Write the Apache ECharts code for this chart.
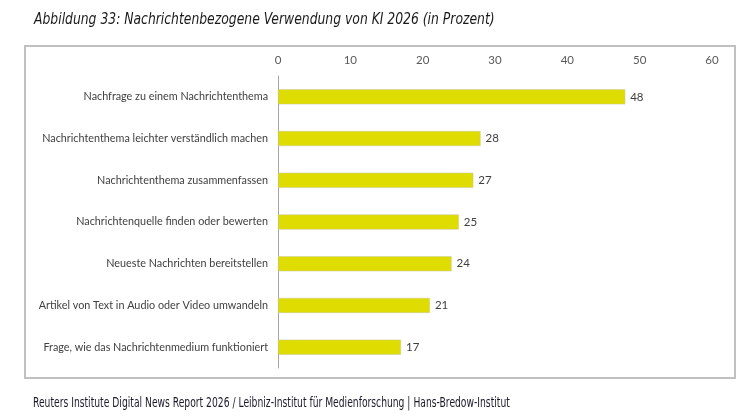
<!DOCTYPE html>
<html>
<head>
<meta charset="utf-8">
<script src="https://cdn.jsdelivr.net/npm/echarts@6/dist/echarts.min.js"></script>
<style>
  html, body { margin: 0; padding: 0; background: #fff; }
  #chart { width: 754px; height: 418px; }
</style>
</head>
<body>
<div id="chart"></div>
<script>
// Kategorien von oben nach unten
const categories = [
  'Nachfrage zu einem Nachrichtenthema',
  'Nachrichtenthema leichter verständlich machen',
  'Nachrichtenthema zusammenfassen',
  'Nachrichtenquelle finden oder bewerten',
  'Neueste Nachrichten bereitstellen',
  'Artikel von Text in Audio oder Video umwandeln',
  'Frage, wie das Nachrichtenmedium funktioniert'
]
const values = [48, 28, 27, 25, 24, 21, 17]
const xTicks = [0, 10, 20, 30, 40, 50, 60]

const titleText = 'Abbildung 33: Nachrichtenbezogene Verwendung von KI 2026 (in Prozent)'
const sourceText = 'Reuters Institute Digital News Report 2026 / Leibniz-Institut für Medienforschung | Hans-Bredow-Institut'

const labelFont = 'Lato, "Open Sans", sans-serif'
const headFont = '"DejaVu Sans Condensed", "Roboto", sans-serif'

const myChart = echarts.init(document.getElementById('chart'))

const option = {
  backgroundColor: '#fff',
  animation: false,
  graphic: [
    {
      type: 'rect',
      shape: { x: 25, y: 46, width: 710, height: 332 },
      style: { fill: 'none', stroke: '#c0c0c0', lineWidth: 2 },
      z: 0
    },
    {
      type: 'text',
      x: 34,
      y: 12,
      scaleX: 0.86,
      style: {
        text: titleText,
        font: 'italic 16px ' + headFont,
        fill: '#1a1a1a'
      }
    },
    {
      type: 'text',
      x: 33,
      y: 396,
      scaleX: 0.73,
      style: {
        text: sourceText,
        font: '14px ' + headFont,
        fill: '#1a1a2a'
      }
    }
  ],
  grid: {
    left: 278,
    right: 42,
    top: 76,
    bottom: 50
  },
  xAxis: {
    type: 'value',
    position: 'top',
    min: 0,
    max: xTicks[xTicks.length - 1],
    interval: 10,
    axisLine: { show: false },
    axisTick: { show: false },
    splitLine: { show: false },
    axisLabel: {
      color: '#595959',
      fontSize: 11.5,
      fontFamily: labelFont,
      margin: 10
    }
  },
  yAxis: {
    type: 'category',
    inverse: true,
    data: categories,
    axisLine: { show: true, lineStyle: { color: '#a6a6a6', width: 1 } },
    axisTick: { show: false },
    axisLabel: {
      color: '#404040',
      fontSize: 10.8,
      fontFamily: labelFont,
      margin: 10
    }
  },
  series: [
    {
      name: 'Prozent',
      type: 'bar',
      data: values,
      barCategoryGap: '64%',
      itemStyle: {
        color: '#dedc00',
        borderColor: '#c8c6a0',
        borderWidth: 0.5
      },
      label: {
        show: true,
        position: 'right',
        distance: 5,
        color: '#404040',
        fontSize: 11.5,
        fontFamily: labelFont
      }
    }
  ]
}

myChart.setOption(option)
</script>
</body>
</html>
